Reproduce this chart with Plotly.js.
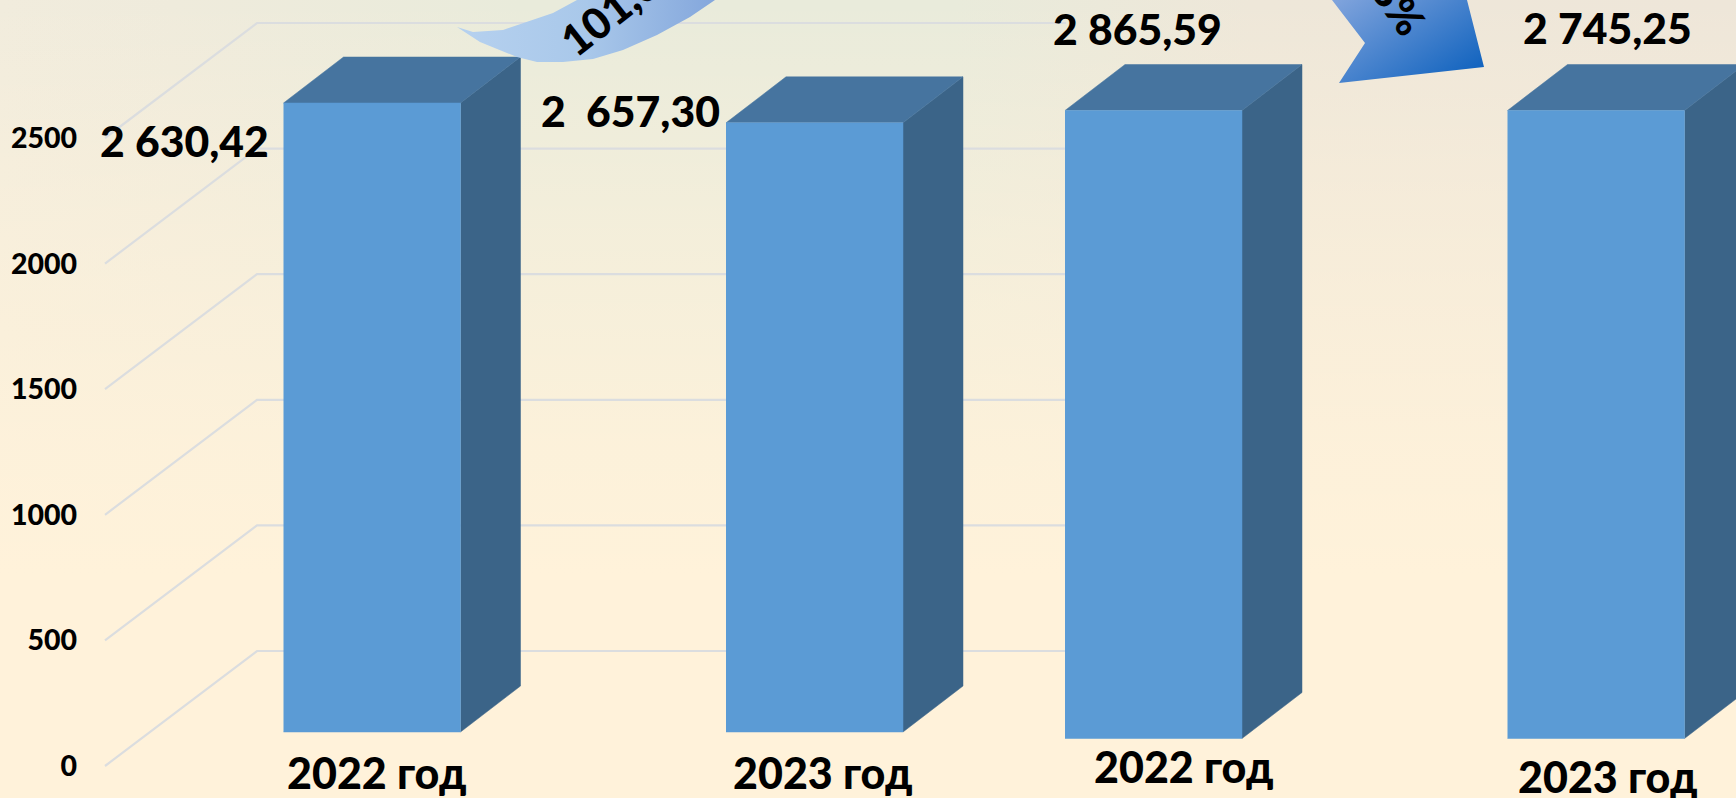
<!DOCTYPE html>
<html><head><meta charset="utf-8">
<script src="https://cdn.plot.ly/plotly-3.0.1.min.js"></script>
<style>
html,body{margin:0;padding:0;width:1736px;height:798px;overflow:hidden}
body{background:
 linear-gradient(to bottom,rgba(255,242,218,0) 0,rgba(255,242,218,.5) 30%,rgba(255,242,218,.85) 55%,#FFF2DA 72%),
 linear-gradient(to right,#F1ECDD 0,#EFEBDC 10%,#E9EBDB 30%,#E9EBDB 55%,#EEE7D9 72%,#EEE6D9 100%);}
#chart{width:1736px;height:798px}
</style></head><body><div id="chart"></div>
<script>
// ---- data ----
const categories = ['2022 год', '2023 год', '2022 год', '2023 год'];
const barHeights = [2504, 2425, 2500, 2500];
const valueLabels = ['2 630,42', '2  657,30', '2 865,59', '2 745,25'];
const tickValues = [0, 500, 1000, 1500, 2000, 2500];
const ribbonLabel = '101,0%';
const arrowLabel = '95,8%';

// ---- layout constants (x axis is in canvas pixels, y axis in chart units) ----
const W = 1736, H = 798, LEFT = 80;
const ZERO_PX = 766, UNIT = 0.2512;
const vOf = px => (ZERO_PX - px) / UNIT;
const barLeft = [283.5, 726, 1065, 1507.5];
const barWidth = 177;
const barBase = [vOf(732), vOf(732), vOf(738.5), vOf(738.5)];
const depthX = 60, depthV = 46 / UNIT;
const floorX = 152, floorV = 115 / UNIT;
const gridFrontX = 105, gridEndX = 1066;
const FRONT = '#5B9BD5', TOP = '#46749F', SIDE = '#3B6488', GRID = '#DBDDDF';
const valuePos = [[184, 140], [630, 110], [1137, 29], [1607, 27]];
const catPos = [[376, 772], [822, 772], [1183, 766], [1607, 776]];
const FONT = 'Lato, Carlito, Calibri, sans-serif';

const traces = [];
// gridlines: receding floor line + back wall line for every tick
tickValues.forEach(t => traces.push({
  type: 'scatter', mode: 'lines', hoverinfo: 'skip', showlegend: false,
  x: [gridFrontX, gridFrontX + floorX, gridEndX],
  y: [t, t + floorV, t + floorV],
  line: {color: GRID, width: 2.2}
}));
// bars: front, top, side faces
barHeights.forEach((h, i) => {
  const x0 = barLeft[i], x1 = x0 + barWidth, b = barBase[i], t = b + h;
  const face = (x, y, c) => traces.push({
    type: 'scatter', mode: 'lines', fill: 'toself', fillcolor: c, hoverinfo: 'skip',
    showlegend: false, x, y, line: {color: c, width: 0.5}
  });
  face([x1, x1 + depthX, x1 + depthX, x1], [b, b + depthV, t + depthV, t], SIDE);
  face([x0, x0 + depthX, x1 + depthX, x1], [t, t + depthV, t + depthV, t], TOP);
  face([x0, x1, x1, x0], [b, b, t, t], FRONT);
});
// ribbon arrow
traces.push({
  type: 'scatter', mode: 'lines', hoverinfo: 'skip', showlegend: false, fill: 'toself',
  x: [457, 473, 503, 553, 577, 715, 690, 657, 623, 593, 563, 537, 517, 480, 457],
  y: [27, 32, 30, 13, 0, 0, 17, 35, 50, 59, 62, 62, 57, 42, 27].map(vOf),
  line: {width: 0, color: 'rgba(0,0,0,0)'},
  fillgradient: {type: 'horizontal', colorscale: [[0, '#B6D1EF'], [0.5, '#A9C8EA'], [1, '#84A7DC']]}
});
// notched arrow
traces.push({
  type: 'scatter', mode: 'lines', hoverinfo: 'skip', showlegend: false, fill: 'toself',
  x: [1332, 1365, 1339, 1484, 1467, 1332],
  y: [0, 43, 83, 67, 0, 0].map(vOf),
  line: {width: 0, color: 'rgba(0,0,0,0)'},
  fillgradient: {type: 'horizontal', colorscale: [[0, '#7FA3DC'], [1, '#0F62BE']]}
});

const text = (t, x, y, size) => ({
  text: t, xref: 'x', yref: 'paper', x, y: 1 - y / H, xanchor: 'center', yanchor: 'middle',
  showarrow: false, font: {family: FONT, size, color: '#000', weight: 900}
});
const annotations = [];
valueLabels.forEach((t, i) => annotations.push(text(t, valuePos[i][0], valuePos[i][1], 42.7)));
categories.forEach((t, i) => annotations.push(text(t, catPos[i][0], catPos[i][1], 43)));
annotations.push(Object.assign(text(ribbonLabel, 624, 1, 43), {textangle: -38}));
annotations.push(Object.assign(text(arrowLabel, 1382, -18, 42), {textangle: 55}));

const layout = {
  width: W, height: H,
  margin: {l: LEFT, r: 0, t: 0, b: 0, pad: 0},
  paper_bgcolor: 'rgba(0,0,0,0)', plot_bgcolor: 'rgba(0,0,0,0)',
  showlegend: false,
  xaxis: {range: [LEFT, W], visible: false, fixedrange: true},
  yaxis: {
    range: [vOf(H), vOf(0)], tickmode: 'array', tickvals: tickValues,
    ticktext: tickValues.map(String), showgrid: false, zeroline: false, showline: false,
    ticks: '', fixedrange: true, ticklabelstandoff: 2,
    tickfont: {family: FONT, size: 28.5, color: '#000', weight: 900}
  },
  annotations
};
Plotly.newPlot('chart', traces, layout, {displayModeBar: false, staticPlot: true}).then(() => {
  // give the notched arrow a diagonal gradient running from its upper left to its lower right
  document.querySelectorAll('linearGradient').forEach(g => {
    const s = g.innerHTML.toLowerCase();
    if (s.includes('15, 98, 190') || s.includes('0f62be')) {
      g.setAttribute('x1', '1'); g.setAttribute('y1', '0.85');
      g.setAttribute('x2', '0'); g.setAttribute('y2', '0.05');
    }
  });
});
</script></body></html>
